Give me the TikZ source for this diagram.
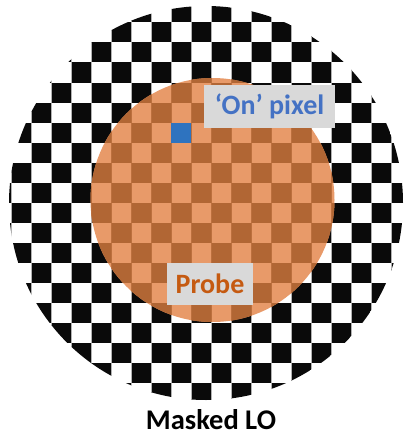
\documentclass[tikz,border=0pt]{standalone}
\usepackage{fontspec}
\setmainfont{Carlito}
\definecolor{chkblack}{HTML}{0A0A0A}
\definecolor{lightor}{HTML}{E89A69}
\definecolor{darkor}{HTML}{B16634}
\definecolor{onblue}{HTML}{2E73BF}
\definecolor{lblblue}{HTML}{4472C4}
\definecolor{lblorange}{HTML}{C55A11}
\definecolor{boxgray}{HTML}{D9D9D9}
\tikzset{
  lblbox/.style={fill=boxgray, inner sep=0pt, font=\fontsize{28}{30}\selectfont\bfseries},
}
\begin{document}
\begin{tikzpicture}[x=1pt,y=-1pt]
\useasboundingbox (0,0) rectangle (404,436);
% outer checkerboard disc
\begin{scope}
  \clip (206,203) circle (197);
  \fill[white] (0,0) rectangle (404,410);
  \foreach \i in {-1,...,20} {
    \foreach \j in {-1,...,21} {
      \pgfmathtruncatemacro{\cellpar}{mod(\i+\j+100,2)}
      \ifnum\cellpar=0
        \fill[chkblack] ({11+20*\i},{2.5+20*\j}) rectangle ++(20,20);
      \fi
    }
  }
  \draw[gray!60, line width=0.5pt, step=20, shift={(11,2.5)}] (-20,-20) grid (400,420);
\end{scope}
% probe disc
\begin{scope}
  \clip (212.5,200) circle (122);
  \fill[lightor] (80,70) rectangle (340,330);
  \foreach \i in {3,...,16} {
    \foreach \j in {3,...,16} {
      \pgfmathtruncatemacro{\cellpar}{mod(\i+\j+100,2)}
      \ifnum\cellpar=0
        \fill[darkor] ({11+20*\i},{2.5+20*\j}) rectangle ++(20,20);
      \fi
    }
  }
  \draw[darkor!80!lightor, line width=0.5pt, step=20, shift={(11,2.5)}] (-20,-20) grid (400,420);
  \fill[onblue] (171,122.5) rectangle (191,142.5);
\end{scope}
% labels
\node[lblbox, text=lblblue, minimum width=131pt, minimum height=43pt] (onlabel) at (269.5,106.5) {‘On’ pixel};
\node[lblbox, text=lblorange, minimum width=86pt, minimum height=42pt] (probelabel) at (210,284) {Probe};
\node[font=\fontsize{28.5}{30}\selectfont\bfseries, text=black, inner sep=0pt, text depth=0pt, anchor=base] (title) at (211,429) {Masked LO};
\end{tikzpicture}
\end{document}
